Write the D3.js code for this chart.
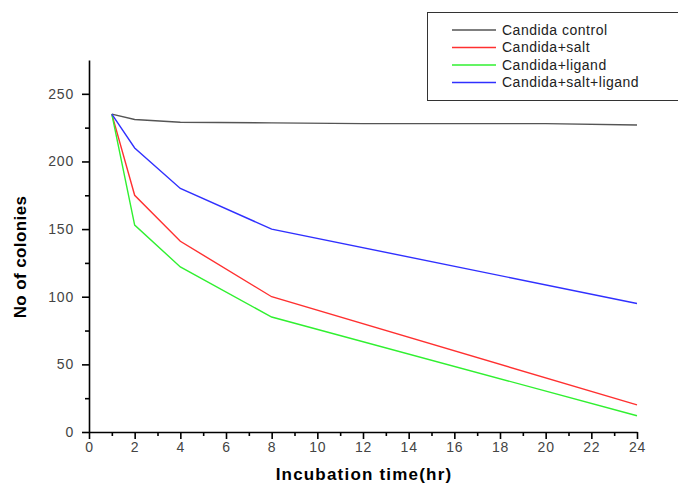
<!DOCTYPE html>
<meta charset="utf-8">
<html>
<head>
  <style>
    body { margin: 0; background: #fff; }
    .tick text { font: 14px "Liberation Sans", Arial, sans-serif; letter-spacing: 0.8px; }
    .axis path, .axis line { stroke: #000; stroke-width: 1.6px; }
    .label { font: bold 17px "Liberation Sans", Arial, sans-serif; fill: #000; }
    .legend text { font: 14px "Liberation Sans", Arial, sans-serif; fill: #222; letter-spacing: 0.5px; }
  </style>
</head>
<body>
<svg width="678" height="487"></svg>

<script src="https://d3js.org/d3.v7.min.js"></script>
<script>

// values
const controlX = [1, 2, 4, 8, 12, 16, 20, 24];
const controlY = [235, 231, 229, 228.5, 228, 228, 228, 227];
const hours = [1, 2, 4, 8, 24];
const saltY = [235, 175, 141, 100, 20];
const ligandY = [235, 153, 122, 85, 12];
const saltLigandY = [235, 210, 180, 150, 95];
const seriesNames = ["Candida control", "Candida+salt", "Candida+ligand", "Candida+salt+ligand"];
const seriesColors = ["#555555", "#ff3030", "#30f030", "#3030ff"];
const xTicks = d3.range(0, 25, 2);
const yTicks = [0, 50, 100, 150, 200, 250];

const series = [
  controlX.map((x, i) => [x, controlY[i]]),
  hours.map((x, i) => [x, saltY[i]]),
  hours.map((x, i) => [x, ligandY[i]]),
  hours.map((x, i) => [x, saltLigandY[i]])
];

const svg = d3.select("svg");
const mLeft = 89, mRight = 637, mTop = 60, mBottom = 432;

const x = d3.scaleLinear().domain([0, 24]).range([mLeft, mRight]);
const y = d3.scaleLinear().domain([0, 275]).range([mBottom, mTop]);

// minor ticks
svg.append("g")
  .attr("class", "axis")
  .attr("transform", `translate(0,${mBottom})`)
  .call(d3.axisBottom(x).tickValues(d3.range(1, 24, 2)).tickSize(4).tickFormat(""))
  .call(g => g.select(".domain").remove());
svg.append("g")
  .attr("class", "axis")
  .attr("transform", `translate(${mLeft},0)`)
  .call(d3.axisLeft(y).tickValues([25, 75, 125, 175, 225]).tickSize(4).tickFormat(""))
  .call(g => g.select(".domain").remove());

// main axes
svg.append("g")
  .attr("class", "axis")
  .attr("transform", `translate(0,${mBottom})`)
  .call(d3.axisBottom(x).tickValues(xTicks).tickSize(7).tickSizeOuter(0).tickPadding(3));
svg.append("g")
  .attr("class", "axis")
  .attr("transform", `translate(${mLeft},0)`)
  .call(d3.axisLeft(y).tickValues(yTicks).tickSize(7).tickSizeOuter(0).tickPadding(8));

svg.selectAll(".tick text").attr("fill", "#444");

const line = d3.line().x(d => x(d[0])).y(d => y(d[1]));

svg.selectAll(".series")
  .data(series)
  .join("path")
  .attr("class", "series")
  .attr("fill", "none")
  .attr("stroke", (d, i) => seriesColors[i])
  .attr("stroke-width", 1.4)
  .attr("d", line);

// axis labels
svg.append("text")
  .attr("class", "label")
  .attr("x", 364)
  .attr("y", 480)
  .attr("text-anchor", "middle")
  .attr("letter-spacing", "1.2px")
  .text("Incubation time(hr)");

svg.append("text")
  .attr("class", "label")
  .attr("transform", `translate(26,257) rotate(-90)`)
  .attr("text-anchor", "middle")
  .attr("font-size", "16px")
  .attr("letter-spacing", "0.4px")
  .text("No of colonies");

// legend
const legend = svg.append("g").attr("class", "legend");
legend.append("rect")
  .attr("x", 427.5).attr("y", 12.5)
  .attr("width", 260).attr("height", 88)
  .attr("fill", "#fff").attr("stroke", "#333").attr("stroke-width", 1);

const rows = legend.selectAll(".row")
  .data(seriesNames)
  .join("g")
  .attr("class", "row")
  .attr("transform", (d, i) => `translate(0,${30 + i * 17.5})`);

rows.append("line")
  .attr("x1", 452).attr("x2", 496)
  .attr("stroke", (d, i) => seriesColors[i])
  .attr("stroke-width", 1.5);

rows.append("text")
  .attr("x", 502)
  .attr("dy", "0.35em")
  .text(d => d);

</script>
</body>
</html>
